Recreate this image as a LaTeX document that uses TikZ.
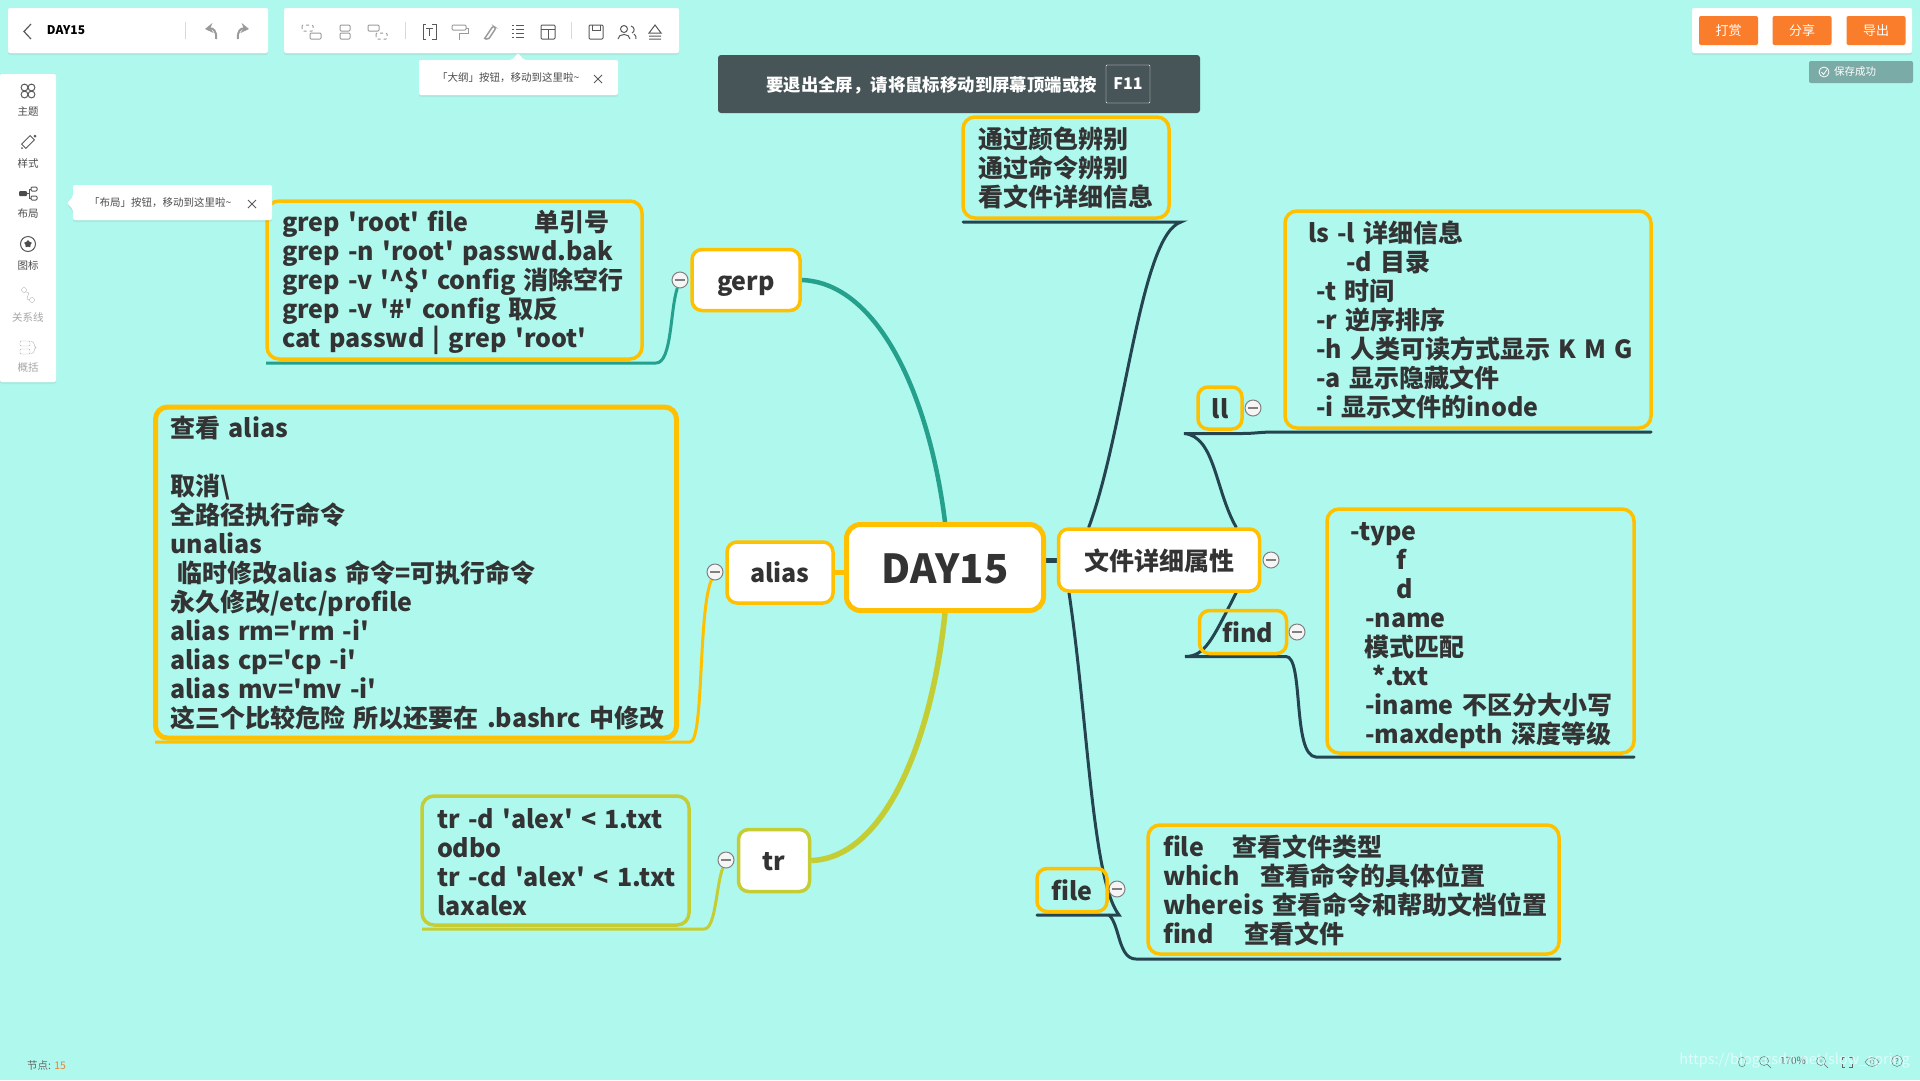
\documentclass[tikz,border=0pt]{standalone}
\usepackage{fontspec}
\setmainfont{Noto Sans CJK SC}[Ligatures=TeXOff]
\usepackage{xcolor}
\usetikzlibrary{arrows.meta, backgrounds, shadows, shapes.geometric}

\definecolor{sheetbg}{HTML}{AFF8EE}
\definecolor{goldline}{HTML}{FFC000}
\definecolor{tealline}{HTML}{24A08D}
\definecolor{oliveline}{HTML}{C4CD34}
\definecolor{navyline}{HTML}{24444F}
\definecolor{inkdark}{HTML}{333333}
\definecolor{toolgrey}{HTML}{9A9A9A}
\definecolor{barslate}{HTML}{475559}
\definecolor{btnorange}{HTML}{F97D2B}
\definecolor{savegrey}{HTML}{7BABA6}

\newcommand{\memostrut}{\rule[-1pt]{0pt}{24pt}}

\tikzset{
    topic/.style={draw=goldline, line width=3.5pt, rounded corners=10pt, fill=white, text=inkdark, inner sep=0pt, text height=22pt, text depth=2pt, font=\fontsize{25}{29}\selectfont\bfseries},
    plainTopic/.style={topic, fill=none},
    memo/.style 2 args={draw=goldline, line width=3.5pt, rounded corners=12pt, text=inkdark, inner ysep=0pt, inner xsep=15pt, align=left,
        minimum width=#1pt, minimum height=#2pt, text width=#1pt-30pt, font=\fontsize{25}{29}\selectfont\bfseries,
        execute at begin node={\rightskip=-30pt plus 1fil\memostrut}, execute at end node={\memostrut}},
    foldbtn/.style={circle, draw=gray, line width=1pt, fill=white!92!gray, minimum size=16pt, inner sep=0pt,
        path picture={\draw[gray, line width=1.2pt] ([xshift=3pt]path picture bounding box.west) -- ([xshift=-3pt]path picture bounding box.east);}},
    panel/.style={fill=white, rounded corners=2pt, drop shadow={opacity=0.12, shadow xshift=0pt, shadow yshift=-2pt}},
    link/.style={navyline, line width=3pt, line cap=round},
    toolicon/.style={toolgrey, line width=1pt},
    darkicon/.style={black!65, line width=1pt},
    uitext/.style={inner sep=0pt, text=black!70, font=\fontsize{10.5}{12}\selectfont},
    btnlabel/.style={fill=btnorange, rounded corners=2pt, minimum width=59pt, minimum height=29pt, text=white, inner sep=0pt, font=\fontsize{13}{14}\selectfont}
}

\begin{document}
\begin{tikzpicture}[x=1pt, y=-1pt]
    \useasboundingbox (0,0) rectangle (1920,1080);

    % mind map
    \node[topic, line width=5pt, rounded corners=14pt, minimum width=197pt, minimum height=86pt, text height=31pt, text depth=0pt, font=\fontsize{40}{44}\selectfont\bfseries] (root) at (945,567.5) {DAY15};
    \node[topic, minimum width=201pt, minimum height=62pt] (attr) at (1159,560) {文件详细属性};
    \node[topic, minimum width=108pt, minimum height=61pt] (gerp) at (746,280) {gerp};
    \node[topic, minimum width=106pt, minimum height=61pt] (alias) at (780,572.5) {alias};
    \node[topic, draw=oliveline, minimum width=71pt, minimum height=62pt] (tr) at (774,860.5) {tr};
    \node[plainTopic, minimum width=44pt, minimum height=42pt] (ll) at (1220,408) {ll};
    \node[plainTopic, minimum width=87pt, minimum height=43pt] (find) at (1243,632) {\hspace*{10pt}find};
    \node[plainTopic, minimum width=70pt, minimum height=43pt] (file) at (1072,890) {file};

    \node[foldbtn] (gerpfold) at (680,280) {};
    \node[foldbtn] (aliasfold) at (715,572) {};
    \node[foldbtn] (trfold) at (726,860) {};
    \node[foldbtn] (attrfold) at (1271,560) {};
    \node[foldbtn] (llfold) at (1253,408) {};
    \node[foldbtn] (findfold) at (1297,632) {};
    \node[foldbtn] (filefold) at (1117,889) {};

    \node[memo={375}{158}] (grepbox) at (454.5,280) {\rule{0pt}{26.4pt}\makebox[252pt][l]{grep 'root' file}单引号\\grep -n 'root' passwd.bak\\grep -v '\textasciicircum\$' config 消除空行\\grep -v '\#' config 取反\\cat passwd | grep 'root'};
    \node[memo={521}{331}, line width=5pt] (aliasbox) at (416,572.5) {查看 alias\\[29pt]取消\textbackslash\\全路径执行命令\\unalias\\\hspace*{7pt}临时修改alias 命令=可执行命令\\永久修改/etc/profile\\alias rm='rm -i'\\alias cp='cp -i'\\alias mv='mv -i'\\这三个比较危险 所以还要在 .bashrc 中修改};
    \node[memo={267}{129}, draw=oliveline] (trbox) at (555.5,860.5) {tr -d 'alex' < 1.txt\\odbo\\tr -cd 'alex' < 1.txt\\laxalex};
    \node[memo={206}{101}] (colorbox) at (1066,167.5) {通过颜色辨别\\通过命令辨别\\看文件详细信息};
    \node[memo={366}{217}] (lsbox) at (1468,319.5) {\hspace*{8pt}ls -l 详细信息\\\hspace*{46pt}-d 目录\\\hspace*{16pt}-t 时间\\\hspace*{16pt}-r 逆序排序\\\hspace*{16pt}-h 人类可读方式显示 K M G\\\hspace*{16pt}-a 显示隐藏文件\\\hspace*{16pt}-i 显示文件的inode};
    \node[memo={307}{244}] (typebox) at (1480.5,631) {\rule{0pt}{26.4pt}\hspace*{8pt}-type\\\hspace*{54pt}f\\\hspace*{54pt}d\\\hspace*{23pt}-name\\\hspace*{22pt}模式匹配\\\hspace*{30pt}*.txt\\\hspace*{23pt}-iname 不区分大小写\\\hspace*{23pt}-maxdepth 深度等级};
    \node[memo={411}{129}] (filebox) at (1353.5,889.5) {\makebox[69pt][l]{file}查看文件类型\\\makebox[97pt][l]{which}查看命令的具体位置\\whereis 查看命令和帮助文档位置\\\makebox[81pt][l]{find}查看文件};

    \coordinate (greptail) at (266,363);
    \coordinate (aliastail) at (155,742);
    \coordinate (trtail) at (422,929);
    \coordinate (colortail) at (963,222);
    \coordinate (colorbend) at (1181,222);
    \coordinate (lltail) at (1184,433.5);
    \coordinate (llend) at (1651,432);
    \coordinate (findtail) at (1185,656.5);
    \coordinate (findend) at (1286,656.5);
    \coordinate (typeend) at (1634,757);
    \coordinate (filetail) at (1037,915);
    \coordinate (fileend) at (1119,915);
    \coordinate (whichend) at (1560,959);

    \begin{pgfonlayer}{background}
        \fill[sheetbg] (0,0) rectangle (1920,1080);
        % main branches
        \draw[tealline, line width=4.5pt] (gerp.east) .. controls (880,283) and (930,400) .. (root.north);
        \draw[goldline, line width=5pt] (alias.east) -- (root.west |- alias.east);
        \draw[oliveline, line width=5.5pt] (tr.east) .. controls (885,858) and (932,740) .. (root.south);
        \draw[navyline, line width=5pt] (root.east |- attr.west) -- (attr.west);
        % children of the attribute node
        \draw[link] (attr.155) .. controls (1125,430) and (1140,235) .. (colorbend) -- (colortail);
        \draw[link] (attr.23) .. controls (1215,490) and (1215,436) .. (lltail) -- (1242,433.5) .. controls (1255,433.5) and (1260,432) .. (1275,432) -- (llend);
        \draw[link] (attr.-23) .. controls (1212,640) and (1205,656.5) .. (findtail) -- (findend) .. controls (1304,656.5) and (1292,756) .. (1316,757) -- (typeend);
        \draw[link] (attr.200) .. controls (1088,720) and (1092,880) .. (fileend) -- (filetail);
        \draw[link] (1109,915) .. controls (1120,925) and (1118,959) .. (1136,959) -- (whichend);
        % memo lines
        \draw[tealline, line width=3pt] (greptail) -- (656,363) .. controls (672,363) and (670,310) .. (gerpfold);
        \draw[goldline, line width=3pt] (aliastail) -- (690,742) .. controls (704,742) and (698,610) .. (aliasfold);
        \draw[oliveline, line width=3pt] (trtail) -- (704,929) .. controls (716,929) and (716,885) .. (trfold);
    \end{pgfonlayer}

    % top bar
    \fill[panel] (8,8) rectangle (268,53);
    \fill[panel] (284,8) rectangle (679,53);
    \fill[panel] (1692,8) rectangle (1912,53);
    \draw[black!65, line width=1.2pt] (31,24) -- (24,31.5) -- (31,39);
    \node[inner sep=0pt, text=black, font=\fontsize{12}{14}\selectfont\bfseries] (title) at (66,30) {DAY15};
    \foreach \xa in {185,405,571}
        \draw[black!15] (\xa,22) -- (\xa,39);
    \draw[toolicon, line width=2pt, -{Stealth[length=8pt, width=10pt]}] (216,39) .. controls (217,31) and (213,28) .. (205,29);
    \draw[toolicon, line width=2pt, -{Stealth[length=8pt, width=10pt]}] (238,39) .. controls (237,31) and (241,28) .. (249,29);
    \draw[toolicon, dashed, rounded corners=1pt] (302,25) rectangle (313,31);
    \draw[toolicon, rounded corners=1pt] (310,33) rectangle (321,39);
    \draw[toolicon, rounded corners=1pt] (340,25) rectangle (350,31);
    \draw[toolicon, rounded corners=1pt] (340,33) rectangle (350,39);
    \draw[toolicon, rounded corners=1pt] (368,25) rectangle (379,31);
    \draw[toolicon, dashed, rounded corners=1pt] (376,33) rectangle (387,39);
    \draw[darkicon] (426,24) -- (423,24) -- (423,39) -- (426,39);
    \draw[darkicon] (432,24) -- (436,24) -- (436,39) -- (432,39);
    \draw[darkicon] (426,28) -- (433,28) (429.5,28) -- (429.5,36);
    \draw[toolicon, rounded corners=1pt] (452,25) rectangle (466,30);
    \draw[toolicon] (466,28) -- (468,28) -- (468,33) -- (459,33) -- (459,40);
    \draw[toolicon, line width=1.5pt, rounded corners=2pt] (485,38) -- (493,26) -- (496,28) -- (488,40) -- (484,38);
    \foreach \ya in {25,29,33,37}
        \draw[darkicon] (512,\ya) -- (514,\ya) (516,\ya) -- (524,\ya);
    \draw[darkicon, rounded corners=1pt] (541,25) rectangle (555,39);
    \draw[darkicon] (541,29) -- (555,29) (548,29) -- (548,39);
    \draw[darkicon, rounded corners=1pt] (589,25) rectangle (603,39);
    \draw[darkicon] (592,25) -- (592,30) -- (600,30) -- (600,25);
    \draw[darkicon] (624,29) circle (3.5pt) (618,39) .. controls (618,33) and (630,33) .. (630,39);
    \draw[darkicon] (631,26) .. controls (635,27) and (635,32) .. (632,33) (634,34) .. controls (636,35) and (636,37) .. (636,39);
    \draw[darkicon] (649,33) -- (655,25) -- (661,33) -- cycle (649,36) -- (661,36) (649,39) -- (661,39);

    % tooltips
    \fill[panel] (518,53) -- (524,60) -- (618,60) -- (618,95) -- (419,95) -- (419,60) -- (512,60) -- cycle;
    \node[uitext, anchor=west] (outlinetip) at (437,78) {「大纲」按钮，移动到这里啦\textasciitilde};
    \draw[darkicon] (594,75) -- (602,83) (602,75) -- (594,83);
    \fill[panel] (67,203) -- (73,197) -- (73,185) -- (272,185) -- (272,220) -- (73,220) -- (73,209) -- cycle;
    \node[uitext, anchor=west] (layouttip) at (89,203) {「布局」按钮，移动到这里啦\textasciitilde};
    \draw[darkicon] (248,200) -- (256,208) (256,200) -- (248,208);

    % full screen notice
    \fill[barslate, rounded corners=3pt] (718,55) rectangle (1200,113);
    \node[inner sep=0pt, anchor=west, text=white, font=\fontsize{17.4}{19}\selectfont\bfseries] (notice) at (766,85) {要退出全屏，请将鼠标移动到屏幕顶端或按};
    \node[draw=white, rounded corners=1pt, minimum width=44pt, minimum height=38pt, inner sep=0pt, text=white, font=\fontsize{16}{18}\selectfont\bfseries] (fkey) at (1128,84) {F11};

    % buttons
    \node[btnlabel] (rewardbtn) at (1728.5,30.5) {打赏};
    \node[btnlabel] (sharebtn) at (1802,30.5) {分享};
    \node[btnlabel] (exportbtn) at (1876,30.5) {导出};
    \fill[savegrey, rounded corners=2pt] (1809,61) rectangle (1913,83);
    \draw[white, line width=0.8pt] (1824,72) circle (5pt);
    \draw[white, line width=0.8pt] (1821.5,72) -- (1823.5,74.5) -- (1827,69.5);
    \node[inner sep=0pt, anchor=west, text=white, font=\fontsize{10.5}{12}\selectfont] (saved) at (1834,72) {保存成功};

    % side bar
    \fill[panel] (0,74) rectangle (56,382);
    \foreach \ya/\name/\txt/\tone in {112/theme/主题/70, 163/style/样式/70, 214/layout/布局/70, 266/icons/图标/70, 317/relation/关系线/35, 368/summary/概括/35}
        \node[uitext, text=black!\tone] (\name) at (28,\ya) {\txt};
    \foreach \xa/\ya in {24.5/87.5, 31.5/87.5, 24.5/94.5, 31.5/94.5}
        \draw[darkicon] (\xa,\ya) circle (3.4pt);
    \draw[darkicon, rotate around={45:(28,142)}] (22,139) rectangle (34,145);
    \fill[black!65] (35,136) circle (1.5pt) (22,148) circle (1pt);
    \fill[black!70, rounded corners=1pt] (19,191) rectangle (27,196);
    \draw[darkicon, rounded corners=1pt] (31,187) rectangle (37,191) (31,196) rectangle (37,200);
    \draw[darkicon] (27,193.5) -- (29,193.5) -- (29,189) -- (31,189) (29,193.5) -- (29,198) -- (31,198);
    \draw[darkicon] (28,244) circle (7.5pt);
    \node[star, star points=5, fill=black!70, minimum size=8pt, inner sep=0pt] (staricon) at (28,244) {};
    \draw[black!30] (24,290) circle (2.5pt) (32,300) circle (2.5pt);
    \draw[black!30] (26,292) .. controls (34,293) and (22,298) .. (29.5,300);
    \draw[black!30, rounded corners=1pt] (20,341) rectangle (30,346) (20,349) rectangle (30,354);
    \draw[black!30] (31,341) .. controls (36,343) and (33,346) .. (36,347.5) .. controls (33,349) and (36,352) .. (31,354);

    % status line
    \node[uitext, anchor=west, text=black!60] (nodecount) at (27,1065) {节点: \textcolor{btnorange}{15}};
    \draw[black!60] (1742,1062) ellipse (3.5pt and 5pt);
    \draw[black!60] (1764,1061) circle (4.5pt) (1767.5,1064.5) -- (1771,1068) (1762,1061) -- (1766,1061);
    \node[uitext, text=black!60, font=\fontsize{10}{12}\selectfont] (zoomlevel) at (1793,1061) {170\%};
    \draw[black!60] (1821,1061) circle (4.5pt) (1824.5,1064.5) -- (1828,1068) (1819,1061) -- (1823,1061) (1821,1059) -- (1821,1063);
    \draw[black!60] (1842,1060) -- (1842,1057) -- (1845,1057) (1849,1057) -- (1852,1057) -- (1852,1060) (1842,1064) -- (1842,1067) -- (1845,1067) (1849,1067) -- (1852,1067) -- (1852,1064);
    \draw[black!60] (1865,1062) .. controls (1869,1056) and (1875,1056) .. (1879,1062) .. controls (1875,1068) and (1869,1068) .. (1865,1062) (1872,1062) circle (2pt);
    \node[circle, draw=black!60, minimum size=11pt, inner sep=0pt, text=black!60, font=\fontsize{8}{9}\selectfont] (helpicon) at (1897,1061) {?};
    \node[inner sep=0pt, anchor=east, text=white, opacity=0.6, font=\fontsize{14.5}{18}\selectfont] (watermark) at (1910,1061) {https://blog.csdn.net/slow\_spring};
\end{tikzpicture}
\end{document}
